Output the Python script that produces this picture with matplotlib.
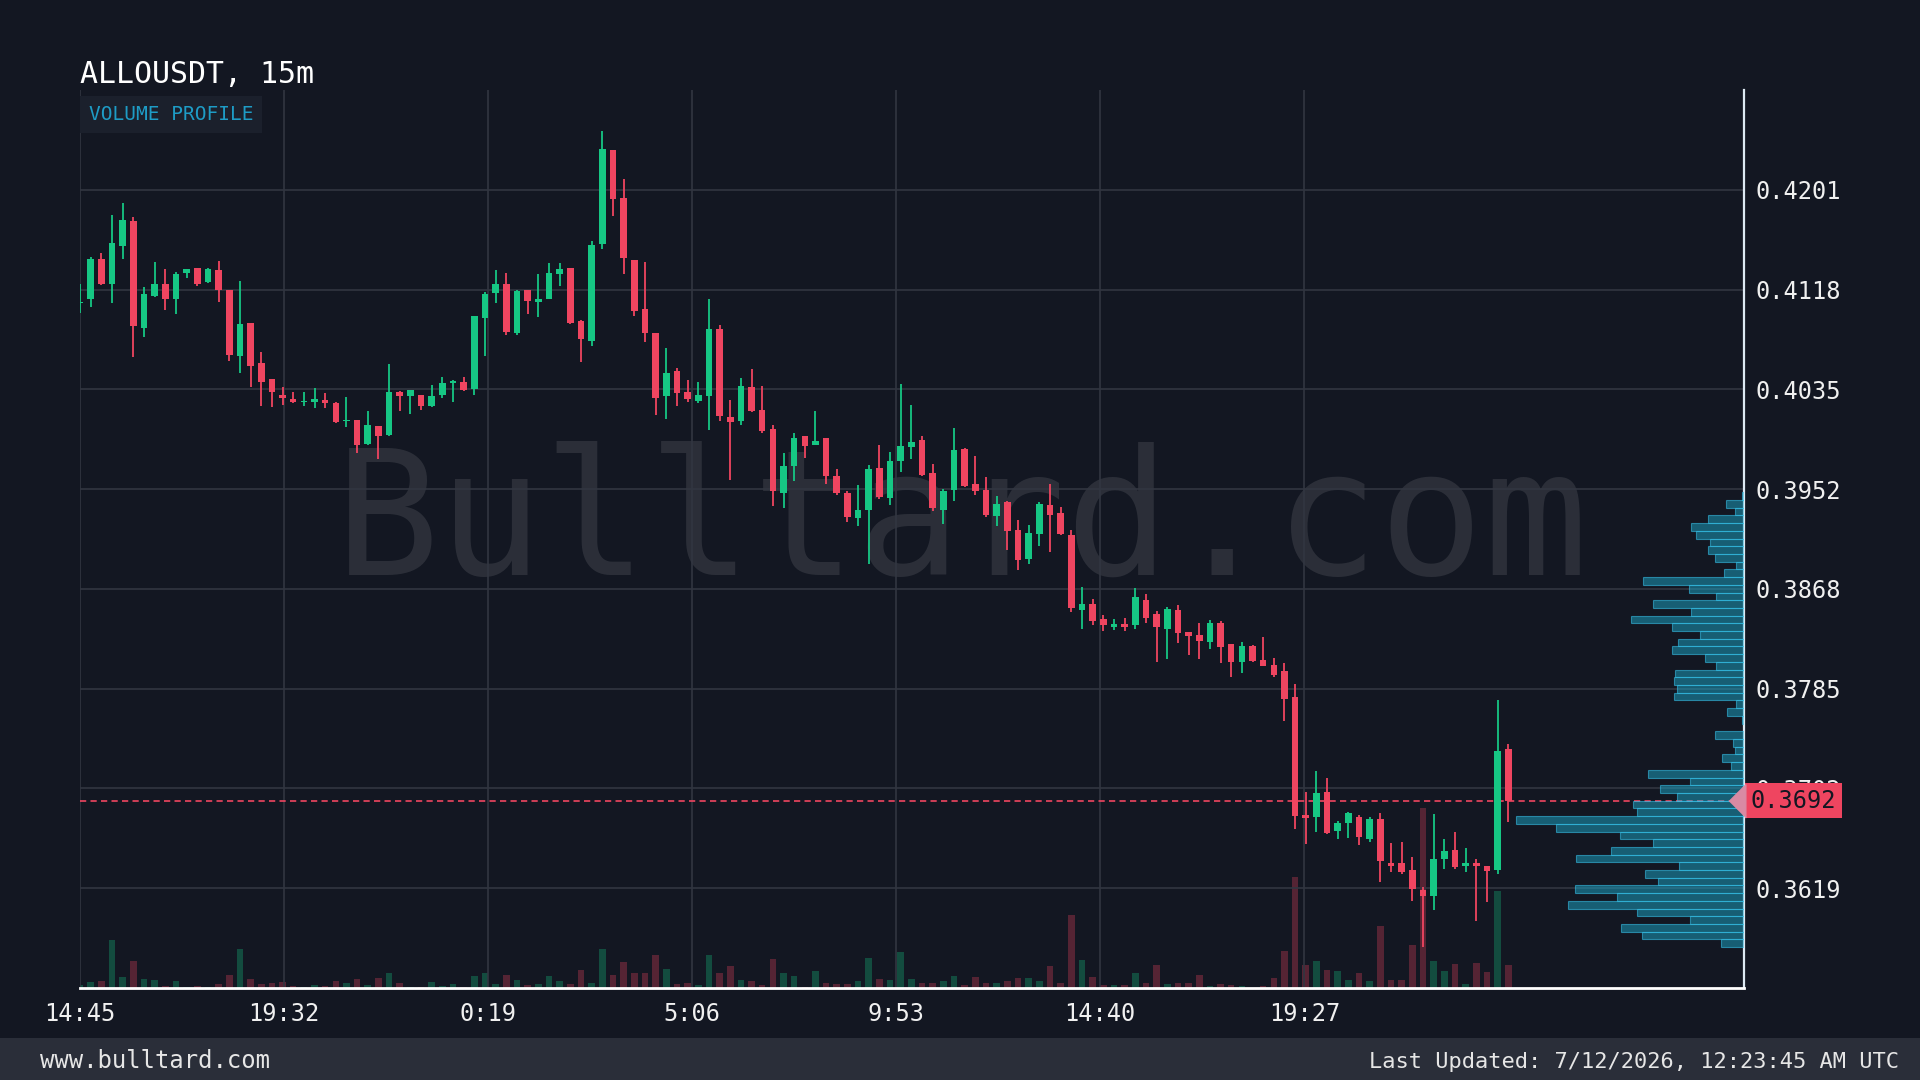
import numpy as np
import matplotlib
matplotlib.use('Agg')
import matplotlib.pyplot as plt
import matplotlib.transforms as mtransforms
from matplotlib.patches import Rectangle

symbol = 'ALLOUSDT'
interval = '15m'

opens = [0.41064, 0.41097, 0.41438, 0.41225, 0.41543, 0.41751, 0.40856, 0.41125, 0.41230, 0.41097,
         0.41319, 0.41357, 0.41244, 0.41341, 0.41175, 0.40626, 0.40903, 0.40570, 0.40432, 0.40299,
         0.40268, 0.40243, 0.40243, 0.40260, 0.40232, 0.40085, 0.40094, 0.39894, 0.40044, 0.39964,
         0.40324, 0.40296, 0.40302, 0.40205, 0.40301, 0.40404, 0.40407, 0.40349, 0.40944, 0.41147,
         0.41222, 0.40814, 0.41174, 0.41077, 0.41105, 0.41313, 0.41360, 0.40919, 0.40753, 0.41562,
         0.42344, 0.41942, 0.41424, 0.41014, 0.40814, 0.40293, 0.40504, 0.40329, 0.40251, 0.40293,
         0.40850, 0.40121, 0.40085, 0.40371, 0.40177, 0.40019, 0.39484, 0.39706, 0.39955, 0.39886,
         0.39941, 0.39628, 0.39484, 0.39273, 0.39345, 0.39692, 0.39442, 0.39747, 0.39864, 0.39922,
         0.39650, 0.39345, 0.39506, 0.39850, 0.39561, 0.39512, 0.39295, 0.39406, 0.39179, 0.38935,
         0.39143, 0.39387, 0.39318, 0.39137, 0.38510, 0.38560, 0.38430, 0.38370, 0.38395, 0.38380,
         0.38590, 0.38472, 0.38353, 0.38508, 0.38328, 0.38301, 0.38242, 0.38403, 0.38223, 0.38076,
         0.38209, 0.38090, 0.38048, 0.38001, 0.37780, 0.36796, 0.36782, 0.36990, 0.36663, 0.36735,
         0.36787, 0.36602, 0.36768, 0.36399, 0.36399, 0.36338, 0.36172, 0.36125, 0.36435, 0.36510,
         0.36374, 0.36399, 0.36372, 0.36344, 0.37350]
highs = [0.41230, 0.41452, 0.41488, 0.41798, 0.41901, 0.41784, 0.41202, 0.41410, 0.41355, 0.41327,
         0.41349, 0.41357, 0.41357, 0.41418, 0.41175, 0.41247, 0.40903, 0.40656, 0.40432, 0.40371,
         0.40329, 0.40329, 0.40357, 0.40315, 0.40246, 0.40288, 0.40094, 0.40171, 0.40044, 0.40559,
         0.40335, 0.40343, 0.40302, 0.40385, 0.40454, 0.40426, 0.40454, 0.40958, 0.41161, 0.41346,
         0.41319, 0.41180, 0.41180, 0.41308, 0.41402, 0.41402, 0.41360, 0.40930, 0.41585, 0.42503,
         0.42344, 0.42103, 0.41424, 0.41410, 0.40814, 0.40695, 0.40523, 0.40426, 0.40412, 0.41100,
         0.40883, 0.40260, 0.40446, 0.40515, 0.40376, 0.40052, 0.39817, 0.39983, 0.39955, 0.40171,
         0.39941, 0.39683, 0.39498, 0.39553, 0.39719, 0.39886, 0.39825, 0.40390, 0.40218, 0.39961,
         0.39728, 0.39520, 0.40024, 0.39858, 0.39789, 0.39614, 0.39462, 0.39415, 0.39262, 0.39215,
         0.39406, 0.39559, 0.39368, 0.39173, 0.38700, 0.38600, 0.38470, 0.38430, 0.38440, 0.38690,
         0.38640, 0.38500, 0.38536, 0.38547, 0.38328, 0.38403, 0.38425, 0.38417, 0.38223, 0.38242,
         0.38215, 0.38287, 0.38112, 0.38071, 0.37890, 0.36990, 0.37164, 0.37106, 0.36746, 0.36829,
         0.36796, 0.36782, 0.36818, 0.36568, 0.36574, 0.36449, 0.36200, 0.36810, 0.36596, 0.36657,
         0.36524, 0.36430, 0.36372, 0.37757, 0.37392]
lows = [0.40981, 0.41036, 0.41220, 0.41064, 0.41438, 0.40620, 0.40781, 0.41119, 0.41008, 0.40975,
        0.41272, 0.41208, 0.41236, 0.41078, 0.40587, 0.40482, 0.40371, 0.40210, 0.40199, 0.40219,
        0.40232, 0.40210, 0.40191, 0.40191, 0.40070, 0.40038, 0.39817, 0.39886, 0.39767, 0.39958,
        0.40171, 0.40144, 0.40177, 0.40199, 0.40274, 0.40246, 0.40337, 0.40301, 0.40626, 0.41064,
        0.40800, 0.40800, 0.40980, 0.40953, 0.41100, 0.41210, 0.40892, 0.40579, 0.40709, 0.41521,
        0.41790, 0.41308, 0.40961, 0.40745, 0.40135, 0.40099, 0.40210, 0.40246, 0.40238, 0.40010,
        0.40080, 0.39595, 0.40052, 0.40163, 0.39983, 0.39373, 0.39359, 0.39581, 0.39775, 0.39880,
        0.39561, 0.39470, 0.39240, 0.39212, 0.38896, 0.39434, 0.39387, 0.39656, 0.39767, 0.39628,
        0.39332, 0.39229, 0.39415, 0.39534, 0.39470, 0.39284, 0.39212, 0.39007, 0.38846, 0.38888,
        0.39040, 0.38991, 0.39138, 0.38490, 0.38350, 0.38380, 0.38330, 0.38340, 0.38330, 0.38350,
        0.38400, 0.38076, 0.38104, 0.38231, 0.38132, 0.38098, 0.38187, 0.38065, 0.37946, 0.37987,
        0.38075, 0.38040, 0.37946, 0.37586, 0.36679, 0.36560, 0.36657, 0.36643, 0.36596, 0.36607,
        0.36546, 0.36574, 0.36241, 0.36324, 0.36311, 0.36081, 0.35698, 0.36006, 0.36352, 0.36352,
        0.36324, 0.35914, 0.36075, 0.36311, 0.36740]
closes = [0.41075, 0.41438, 0.41225, 0.41571, 0.41762, 0.40875, 0.41141, 0.41230, 0.41097, 0.41313,
          0.41349, 0.41225, 0.41349, 0.41175, 0.40634, 0.40892, 0.40546, 0.40413, 0.40324, 0.40274,
          0.40243, 0.40252, 0.40268, 0.40232, 0.40074, 0.40094, 0.39880, 0.40052, 0.39961, 0.40324,
          0.40296, 0.40343, 0.40205, 0.40293, 0.40398, 0.40418, 0.40343, 0.40958, 0.41141, 0.41222,
          0.40825, 0.41169, 0.41083, 0.41097, 0.41321, 0.41349, 0.40903, 0.40764, 0.41549, 0.42352,
          0.41937, 0.41446, 0.41003, 0.40814, 0.40274, 0.40482, 0.40315, 0.40265, 0.40301, 0.40850,
          0.40127, 0.40072, 0.40379, 0.40171, 0.39997, 0.39498, 0.39711, 0.39941, 0.39877, 0.39919,
          0.39622, 0.39484, 0.39282, 0.39340, 0.39683, 0.39451, 0.39753, 0.39872, 0.39908, 0.39636,
          0.39359, 0.39503, 0.39839, 0.39545, 0.39503, 0.39298, 0.39392, 0.39165, 0.38924, 0.39151,
          0.39392, 0.39304, 0.39143, 0.38526, 0.38560, 0.38420, 0.38380, 0.38395, 0.38370, 0.38620,
          0.38440, 0.38370, 0.38514, 0.38320, 0.38292, 0.38251, 0.38403, 0.38204, 0.38079, 0.38209,
          0.38082, 0.38043, 0.37968, 0.37766, 0.36790, 0.36774, 0.36984, 0.36652, 0.36735, 0.36818,
          0.36616, 0.36768, 0.36413, 0.36374, 0.36324, 0.36180, 0.36125, 0.36435, 0.36496, 0.36366,
          0.36402, 0.36374, 0.36333, 0.37336, 0.36920]
volumes = [3.3, 6, 6.7, 47.7, 10.7, 26.7, 9, 8, 2.3, 7.3, 0.7, 2.3, 1.3, 4.3, 13.3, 39, 9.3, 3.7,
           4.7, 6.3, 2.3, 1, 3.3, 2.3, 6.7, 5.3, 8.7, 2.7, 9.7, 15.3, 5, 1.3, 0.7, 6, 2.3, 4.3, 1,
           11.7, 14.7, 4.3, 12.7, 7.7, 3.3, 4.3, 11.7, 7.3, 3.7, 18, 5.3, 39.3, 13.3, 26, 14.7, 14.7,
           33.3, 19.3, 4.3, 5.3, 2.7, 33.3, 14.7, 21.7, 8.3, 7.3, 2.7, 29.3, 15.3, 11.7, 0.7, 17.3,
           5.3, 4.3, 4, 6.7, 30, 9.3, 7.7, 36, 9.3, 5.3, 5.3, 6.7, 11.7, 2.7, 11.3, 5, 5.3, 6.7, 10.3,
           10, 6.7, 21.7, 5.3, 72.7, 28, 11.3, 2.7, 3.3, 3.3, 15.3, 5.3, 22.7, 4, 5.3, 5.3, 13.3, 2,
           4.3, 3.3, 2, 0.5, 2, 10, 37.3, 111, 22.7, 27.3, 18, 17.3, 8, 15, 7.3, 61.7, 7.7, 8.3, 42.7,
           180, 27.3, 17.3, 24.3, 4, 25.3, 16, 97.7, 22.7]
time_labels = ['14:45', '19:32', '0:19', '5:06', '9:53', '14:40', '19:27']

# volume profile bins, from the top price bin down
vp_volumes = [5, 53, 28, 108, 158, 143, 103, 108, 88, 23, 61, 303, 165, 85, 273, 158, 340, 215,
              133, 198, 215, 116, 85, 206, 211, 201, 210, 25, 51, 5, 0, 88, 33, 28, 66, 40, 288,
              163, 253, 200, 333, 321, 683, 563, 371, 273, 400, 503, 195, 298, 259, 508, 381, 528,
              320, 161, 370, 305, 70]
vp_top = 0.3949

last_updated = 'Last Updated: 7/12/2026, 12:23:45 AM UTC'
site = 'www.bulltard.com'

BG = '#131722'
FOOTER = '#2a2e39'
GREEN = '#16c784'
RED = '#ef4560'
GRID = '#323641'
TEXT = '#f0f0f0'

plt.rcParams['font.family'] = 'DejaVu Sans Mono'

o = np.array(opens)
h = np.array(highs)
l = np.array(lows)
c = np.array(closes)
n = len(c)
x = np.arange(n)
colors = np.where(c >= o, GREEN, RED)

fig = plt.figure(figsize=(19.2, 10.8), dpi=100)
fig.patch.set_facecolor(BG)
fig.add_artist(Rectangle((0, 0), 1, 42 / 1080, transform=fig.transFigure,
                         facecolor=FOOTER, edgecolor='none', zorder=0))

ax = fig.add_axes([80 / 1920, 92 / 1080, 1664 / 1920, 898 / 1080])

# volume bars at the bottom
axv = ax.twinx()
axv.bar(x, volumes, width=0.62, color=colors, alpha=0.3, linewidth=0)
axv.set_ylim(0, max(volumes) * 5)
axv.axis('off')

# volume profile on the right
axp = ax.twiny()
edges = np.linspace(vp_top, l.min(), len(vp_volumes) + 1)
centers = (edges[:-1] + edges[1:]) / 2
bin_h = (vp_top - l.min()) / len(vp_volumes)
axp.barh(centers, vp_volumes, height=bin_h, left=0,
         color=(0.11, 0.71, 0.85, 0.45), edgecolor=(0.22, 0.78, 0.94, 0.55), linewidth=0.8)
axp.set_xlim(max(vp_volumes) / 0.1368, 0)
axp.axis('off')

axv.set_zorder(1)
ax.set_zorder(2)
axp.set_zorder(3)
ax.patch.set_visible(False)

# candles
ax.vlines(x, l, h, colors=colors, linewidth=1.3, zorder=3)
body = np.maximum(np.abs(c - o), 0.00007)
ax.bar(x, body, bottom=np.minimum(o, c), width=0.62, color=colors, linewidth=0, zorder=4)

lo, hi = l.min(), h.max()
pad = (hi - lo) * 0.05
ymin, ymax = lo - pad, hi + pad
ax.set_ylim(ymin, ymax)
ax.set_xlim(0, (n - 1) * 1.165)

yt = np.linspace(ymin, ymax, 10)[1:-1]
ax.set_yticks(yt)
ax.set_yticklabels([f'{t:.4f}' for t in yt])
ax.set_xticks(np.arange(len(time_labels)) * (n - 1) / 7)
ax.set_xticklabels(time_labels)
ax.yaxis.tick_right()
ax.tick_params(axis='both', length=0, colors=TEXT, labelsize=17)
ax.tick_params(axis='y', pad=8)
ax.tick_params(axis='x', pad=10)
ax.grid(True, color=GRID, linewidth=1.2)

for side in ['left', 'top']:
    ax.spines[side].set_visible(False)
ax.spines['right'].set_color('#dde9f3')
ax.spines['right'].set_linewidth(1.6)
ax.spines['bottom'].set_color('white')
ax.spines['bottom'].set_linewidth(2)

ax.text(0.53, 0.46, 'Bulltard.com', transform=ax.transAxes, fontsize=125,
        color='white', alpha=0.1, ha='center', va='baseline', zorder=1)

# last price line and label
price = c[-1]
ax.axhline(price, color=RED, linewidth=1.4, dashes=(3.2, 2.2), alpha=0.85, zorder=2.5)
trans = mtransforms.blended_transform_factory(ax.transAxes, ax.transData)
axp.plot([0.9955], [price], transform=trans, marker=[(-0.5, 0), (0.5, 1), (0.5, -1)],
         markersize=24, color='#d98aa3', clip_on=False, zorder=9)
ax.annotate(f'{price:.4f}', xy=(1, price), xycoords=trans, xytext=(4.9, 0),
            textcoords='offset points', ha='left', va='center', fontsize=17, color='#131722',
            bbox=dict(boxstyle='square,pad=0.25', fc=RED, ec='none'), zorder=10,
            annotation_clip=False)

fig.text(80 / 1920, 1 - 74.5 / 1080, f'{symbol}, {interval}', fontsize=21.5, color='white', va='center')
fig.text(89 / 1920, 1 - 114.5 / 1080, 'VOLUME PROFILE', fontsize=14, color='#1e9cc6', va='center',
         bbox=dict(boxstyle='square,pad=0.45', fc='#1b202c', ec='none'))
fig.text(40 / 1920, 18.5 / 1080, site, fontsize=17.2, color='#e6e6e6', va='center')
fig.text(1899 / 1920, 18.5 / 1080, last_updated, fontsize=15.8, color='#e6e6e6', va='center', ha='right')

plt.savefig('out.png', dpi=100, facecolor=BG)
